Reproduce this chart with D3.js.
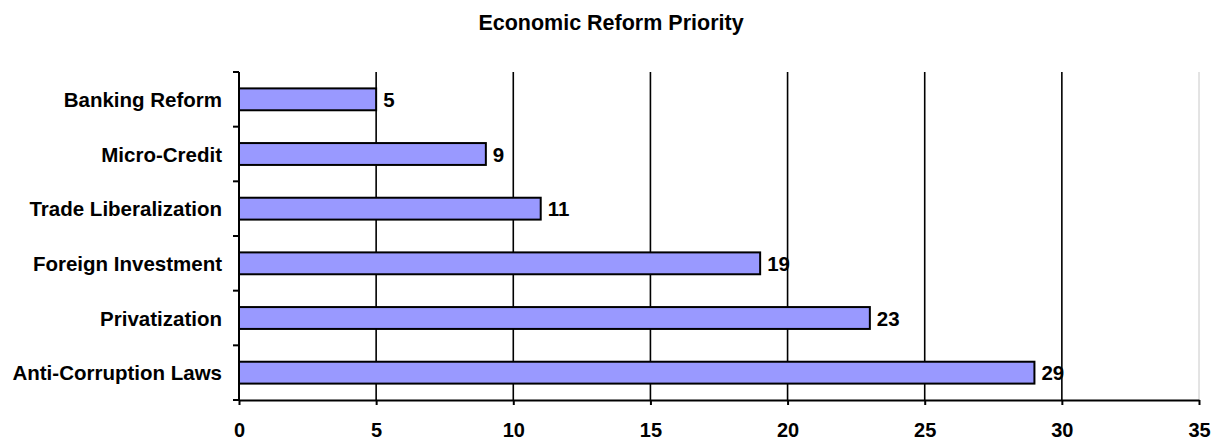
<!DOCTYPE html>
<html>
<head>
<meta charset="utf-8">
<script src="https://cdn.jsdelivr.net/npm/d3@7"></script>
<style>
  body { margin: 0; background: #fff; }
  text { font-family: "Liberation Sans", Arial, sans-serif; font-weight: bold; fill: #000; }
</style>
</head>
<body>
<div id="chart"></div>
<script>
// data
var categories = ["Banking Reform", "Micro-Credit", "Trade Liberalization", "Foreign Investment", "Privatization", "Anti-Corruption Laws"];
var values = [5, 9, 11, 19, 23, 29];
var xTicks = [0, 5, 10, 15, 20, 25, 30, 35];

var W = 1220, H = 442;
var m = {left: 239, right: 21, top: 72, bottom: 42};

var svg = d3.select("#chart").append("svg").attr("width", W).attr("height", H);

var x = d3.scaleLinear().domain([0, 35]).range([m.left, W - m.right]);
var y = d3.scaleBand().domain(categories).range([m.top, H - m.bottom]).paddingInner(0.6).paddingOuter(0.3);

// title
svg.append("text").attr("x", 611).attr("y", 30).attr("text-anchor", "middle")
  .style("font-size", "21.5px").text("Economic Reform Priority");

// gridlines
svg.selectAll(".grid").data(xTicks.slice(1, -1)).enter().append("line")
  .attr("x1", d => x(d)).attr("x2", d => x(d))
  .attr("y1", m.top).attr("y2", H - m.bottom)
  .attr("stroke", "#000").attr("stroke-width", 1.6);
// right border
svg.append("line").attr("x1", x(35)).attr("x2", x(35)).attr("y1", m.top).attr("y2", H - m.bottom)
  .attr("stroke", "#c8c8c8").attr("stroke-width", 1);

// bars
svg.selectAll(".bar").data(values).enter().append("rect")
  .attr("x", x(0))
  .attr("y", (d, i) => y(categories[i]))
  .attr("width", d => x(d) - x(0))
  .attr("height", y.bandwidth())
  .attr("fill", "#9999FF").attr("stroke", "#000").attr("stroke-width", 2);

// value labels
svg.selectAll(".val").data(values).enter().append("text")
  .attr("x", d => x(d) + 7)
  .attr("y", (d, i) => y(categories[i]) + y.bandwidth() / 2)
  .attr("dy", "0.38em").style("font-size", "20.5px")
  .text(d => d);

// y axis
var yAxisG = svg.append("g");
yAxisG.append("line").attr("x1", x(0)).attr("x2", x(0)).attr("y1", m.top).attr("y2", H - m.bottom)
  .attr("stroke", "#000").attr("stroke-width", 2);
var yEdges = d3.range(categories.length + 1).map(i => m.top + i * (H - m.top - m.bottom) / categories.length);
yAxisG.selectAll(".yt").data(yEdges).enter().append("line")
  .attr("x1", x(0) - 6).attr("x2", x(0)).attr("y1", d => d).attr("y2", d => d)
  .attr("stroke", "#000").attr("stroke-width", 2);
yAxisG.selectAll(".yl").data(categories).enter().append("text")
  .attr("x", x(0) - 17).attr("y", d => y(d) + y.bandwidth() / 2)
  .attr("dy", "0.38em").attr("text-anchor", "end").style("font-size", "20.5px")
  .text(d => d);

// x axis
var xAxis = d3.axisBottom(x).tickValues(xTicks).tickSize(5).tickSizeOuter(0).tickPadding(18);
var xg = svg.append("g").attr("transform", "translate(0," + (H - m.bottom) + ")").call(xAxis);
xg.select(".domain").attr("stroke", "#000").attr("stroke-width", 2);
xg.selectAll(".tick line").attr("stroke", "#000").attr("stroke-width", 2);
xg.selectAll(".tick text").style("font-size", "20px").style("font-family", "Liberation Sans, Arial, sans-serif")
  .style("font-weight", "bold").attr("fill", "#000");
</script>
</body>
</html>
